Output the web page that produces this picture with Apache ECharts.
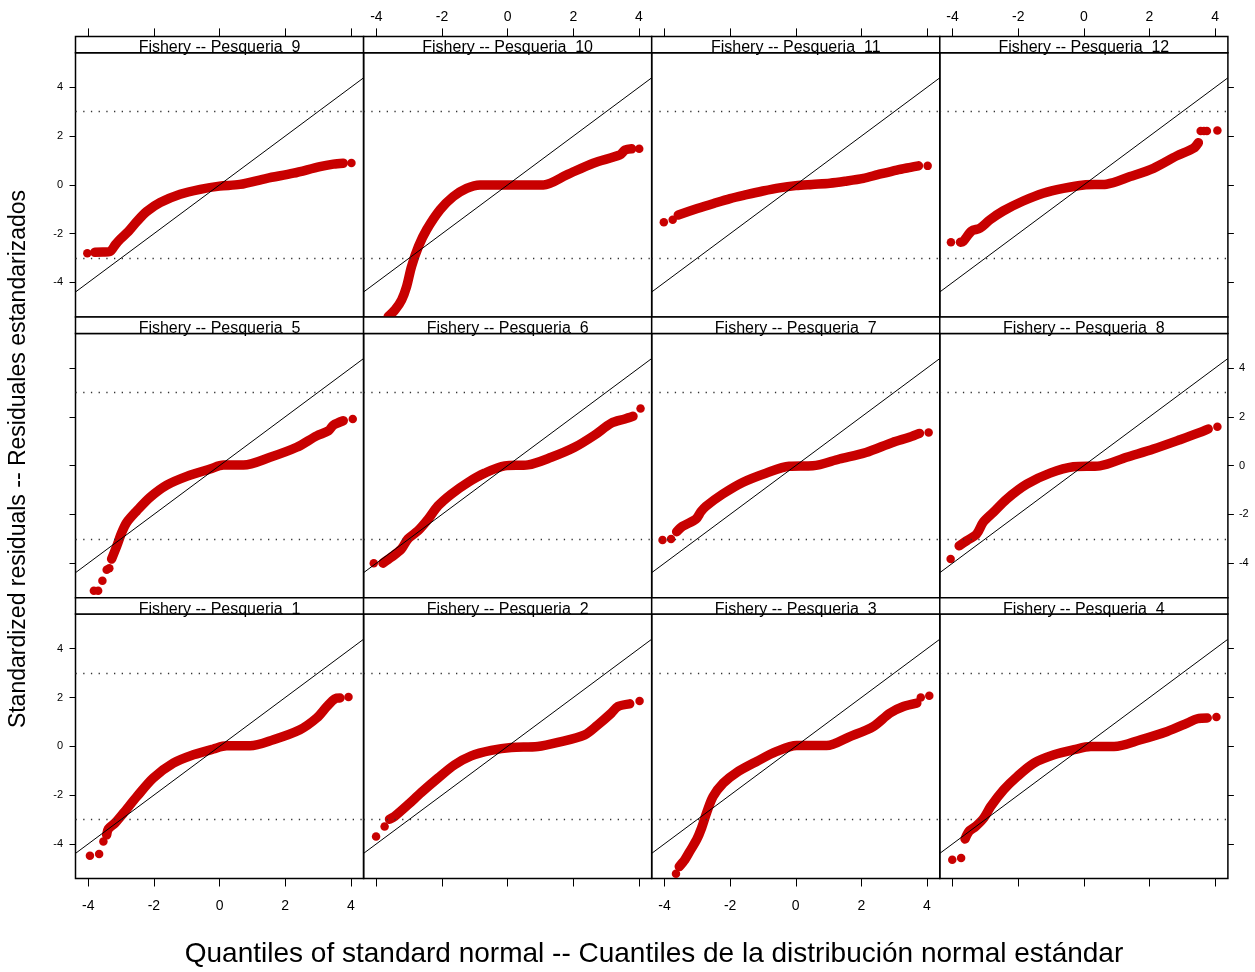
<!DOCTYPE html>
<html>
<head>
<meta charset="utf-8">
<script src="https://cdn.jsdelivr.net/npm/echarts@6/dist/echarts.min.js"></script>
<style>
  html, body { margin: 0; padding: 0; background: #fff; }
  #chart { width: 1255px; height: 972px; }
</style>
</head>
<body>
<div id="chart"></div>
<script>
// panels as laid out: top row 9-12, middle row 5-8, bottom row 1-4
const panelOrder = [9, 10, 11, 12, 5, 6, 7, 8, 1, 2, 3, 4];
const xTicks = [-4, -2, 0, 2, 4];
const yTicks = [-4, -2, 0, 2, 4];
const refLine = [[-4.39, -4.39], [4.39, 4.39]];
const limitLines = [3, -3];

// dense part of each qq cloud and the loose tail points
const band1 = [[-3.44,-3.63],[-3.39,-3.39],[-3.19,-3.15],[-2.93,-2.74],[-2.52,-2.06],[-2.02,-1.30],[-1.41,-0.69],[-0.80,-0.35],[-0.19,-0.11],[0.22,0.02],[0.93,0.02],[1.64,0.27],[2.45,0.68],[2.96,1.16],[3.27,1.63],[3.52,1.95],[3.67,1.98]];
const dots1 = [[-3.95,-4.49],[-3.67,-4.42],[-3.54,-3.90],[3.93,2.02]];
const band2 = [[-3.60,-2.99],[-3.45,-2.88],[-3.04,-2.40],[-2.63,-1.89],[-2.12,-1.30],[-1.62,-0.76],[-1.11,-0.39],[-0.50,-0.17],[0.11,-0.05],[0.92,-0.01],[1.53,0.16],[2.35,0.47],[2.75,0.88],[3.16,1.36],[3.36,1.63],[3.72,1.74]];
const dots2 = [[-4.01,-3.70],[-3.75,-3.29],[4.02,1.86]];
const band3 = [[-3.55,-4.93],[-3.38,-4.65],[-3.23,-4.31],[-3.02,-3.83],[-2.87,-3.35],[-2.72,-2.74],[-2.52,-2.06],[-2.21,-1.51],[-1.80,-1.07],[-1.19,-0.62],[-0.58,-0.21],[0.03,0.03],[0.94,0.03],[1.65,0.40],[2.36,0.81],[2.87,1.36],[3.28,1.63],[3.69,1.77]];
const dots3 = [[-3.65,-5.23],[3.81,2.00],[4.07,2.07]];
const band4 = [[-3.62,-3.80],[-3.50,-3.49],[-3.30,-3.29],[-3.05,-2.94],[-2.84,-2.47],[-2.44,-1.78],[-2.03,-1.24],[-1.52,-0.69],[-0.91,-0.35],[-0.30,-0.14],[0.21,-0.01],[0.92,-0.01],[1.73,0.27],[2.54,0.61],[3.15,0.95],[3.46,1.13],[3.76,1.16]];
const dots4 = [[-4.01,-4.65],[-3.74,-4.58],[4.04,1.20]];
const band5 = [[-3.29,-3.83],[-3.13,-3.29],[-2.98,-2.74],[-2.83,-2.33],[-2.52,-1.85],[-2.12,-1.30],[-1.61,-0.80],[-1.00,-0.44],[-0.29,-0.14],[0.12,0.02],[0.73,0.02],[1.54,0.34],[2.35,0.75],[2.96,1.22],[3.32,1.43],[3.47,1.66],[3.77,1.84]];
const dots5 = [[-3.83,-5.13],[-3.70,-5.13],[-3.57,-4.72],[-3.44,-4.27],[-3.36,-4.21],[4.06,1.91]];
const band6 = [[-3.80,-4.00],[-3.55,-3.76],[-3.24,-3.42],[-3.04,-3.01],[-2.73,-2.67],[-2.42,-2.19],[-2.12,-1.65],[-1.72,-1.17],[-1.21,-0.69],[-0.70,-0.31],[-0.09,-0.01],[0.62,0.03],[1.33,0.34],[2.04,0.75],[2.65,1.25],[3.16,1.74],[3.57,1.91],[3.82,2.02]];
const dots6 = [[-4.08,-4.00],[4.05,2.34]];
const band7 = [[-3.63,-2.71],[-3.45,-2.49],[-3.04,-2.19],[-2.89,-1.89],[-2.74,-1.67],[-2.23,-1.17],[-1.62,-0.69],[-0.91,-0.31],[-0.20,-0.03],[0.52,-0.01],[1.33,0.27],[2.14,0.54],[2.95,0.95],[3.46,1.16],[3.77,1.32]];
const dots7 = [[-4.06,-3.05],[-3.80,-3.01],[4.05,1.36]];
const band8 = [[-3.80,-3.29],[-3.57,-3.08],[-3.27,-2.81],[-3.07,-2.33],[-2.76,-1.92],[-2.35,-1.37],[-1.74,-0.76],[-1.03,-0.31],[-0.32,-0.05],[0.49,-0.01],[1.30,0.34],[2.12,0.68],[2.93,1.06],[3.54,1.36],[3.79,1.50]];
const dots8 = [[-4.06,-3.83],[4.07,1.59]];
const band9 = [[-3.80,-2.76],[-3.55,-2.75],[-3.34,-2.73],[-3.18,-2.46],[-3.03,-2.23],[-2.78,-1.91],[-2.52,-1.50],[-2.22,-1.09],[-1.81,-0.72],[-1.20,-0.38],[-0.59,-0.18],[0.00,-0.05],[0.62,0.02],[1.44,0.27],[2.25,0.48],[3.06,0.75],[3.47,0.85],[3.77,0.89]];
const dots9 = [[-4.03,-2.80],[4.02,0.90]];
const band10 = [[-3.64,-5.40],[-3.43,-5.12],[-3.23,-4.71],[-3.08,-4.17],[-2.93,-3.35],[-2.72,-2.53],[-2.47,-1.84],[-2.06,-1.02],[-1.66,-0.48],[-1.25,-0.14],[-0.84,0.00],[1.09,0.00],[1.80,0.41],[2.61,0.89],[3.42,1.23],[3.58,1.43],[3.78,1.48]];
const dots10 = [[4.01,1.48]];
const band11 = [[-3.58,-1.23],[-3.00,-0.97],[-2.50,-0.76],[-2.00,-0.56],[-1.50,-0.40],[-1.00,-0.25],[-0.50,-0.12],[0.00,-0.03],[0.50,0.02],[1.04,0.07],[1.50,0.15],[2.06,0.27],[2.50,0.42],[3.08,0.61],[3.50,0.72],[3.74,0.78]];
const dots11 = [[-4.02,-1.53],[-3.75,-1.43],[4.02,0.78]];
const band12 = [[-3.76,-2.35],[-3.68,-2.32],[-3.42,-1.89],[-3.17,-1.78],[-2.86,-1.43],[-2.46,-1.07],[-1.85,-0.66],[-1.24,-0.34],[-0.63,-0.14],[0.00,0.00],[0.69,0.03],[1.41,0.34],[2.12,0.68],[2.83,1.19],[3.34,1.50],[3.49,1.73]];
const dots12 = [[-4.05,-2.35],[3.56,2.21],[3.66,2.21],[3.75,2.21],[4.07,2.23]];

const bands = {1: band1, 2: band2, 3: band3, 4: band4, 5: band5, 6: band6, 7: band7, 8: band8, 9: band9, 10: band10, 11: band11, 12: band12};
const dots = {1: dots1, 2: dots2, 3: dots3, 4: dots4, 5: dots5, 6: dots6, 7: dots7, 8: dots8, 9: dots9, 10: dots10, 11: dots11, 12: dots12};

const font = '"Liberation Sans", Arial, Helvetica, sans-serif';
const red = '#C80000';
const panelW = 288.1, panelH = 264.4, stripH = 16.3;
const colLeft = c => 75.5 + panelW * c;
const rowTop = r => 52.7 + (panelH + stripH) * r;

const grids = [], xAxes = [], yAxes = [], series = [], graphics = [];

panelOrder.forEach((id, i) => {
    const r = Math.floor(i / 4), c = i % 4;
    grids.push({
        left: colLeft(c), top: rowTop(r), width: panelW, height: panelH,
        show: true, borderColor: '#000', borderWidth: 1.5, backgroundColor: 'transparent'
    });
    xAxes.push({
        gridIndex: i, type: 'value', min: -4.39, max: 4.39,
        show: r !== 1,
        position: r === 0 ? 'top' : 'bottom',
        offset: r === 0 ? stripH : 0,
        axisLine: {show: false, onZero: false},
        splitLine: {show: false},
        axisTick: {show: true, length: 8, customValues: xTicks, lineStyle: {color: '#000', width: 1}},
        axisLabel: {
            show: (r === 0 && c % 2 === 1) || (r === 2 && c % 2 === 0),
            customValues: xTicks, fontSize: 14, color: '#000', fontFamily: font,
            margin: r === 0 ? 12 : 21
        }
    });
    yAxes.push({
        gridIndex: i, type: 'value', min: -5.42, max: 5.42,
        show: c === 0 || c === 3,
        position: c === 3 ? 'right' : 'left',
        axisLine: {show: false, onZero: false},
        splitLine: {show: false},
        axisTick: {show: true, length: 6, customValues: yTicks, lineStyle: {color: '#000', width: 1}},
        axisLabel: {
            show: (c === 0 && r !== 1) || (c === 3 && r === 1),
            customValues: yTicks, fontSize: 11, color: '#000', fontFamily: font,
            margin: c === 0 ? 12.5 : 11
        }
    });
    // thick band of overlapping points
    series.push({
        type: 'line', xAxisIndex: i, yAxisIndex: i, data: bands[id],
        symbol: 'none', smooth: 0.3, z: 2,
        lineStyle: {color: red, width: 9.5, cap: 'round', join: 'round'}
    });
    series.push({
        type: 'scatter', xAxisIndex: i, yAxisIndex: i, data: dots[id],
        symbolSize: 8.5, itemStyle: {color: red, opacity: 1}, z: 2
    });
    // qq reference line and the +-3 limits
    series.push({
        type: 'line', xAxisIndex: i, yAxisIndex: i, data: refLine,
        symbol: 'none', z: 3,
        lineStyle: {color: '#000', width: 1},
        markLine: {
            silent: true, symbol: 'none', label: {show: false},
            lineStyle: {color: '#333', width: 1.3, type: [1.3, 6.4]},
            data: limitLines.map(v => ({yAxis: v}))
        }
    });
    // strip with the panel name
    graphics.push({
        type: 'rect', z: 10,
        shape: {x: colLeft(c), y: rowTop(r) - stripH, width: panelW, height: stripH},
        style: {fill: '#fff', stroke: '#000', lineWidth: 1.5}
    });
    graphics.push({
        type: 'text', z: 11,
        x: colLeft(c) + panelW / 2, y: rowTop(r) - 5,
        style: {
            text: 'Fishery -- Pesqueria  ' + id, fill: '#000',
            font: '16px ' + font, textAlign: 'center', textVerticalAlign: 'middle',
            align: 'center', verticalAlign: 'middle'
        }
    });
});

graphics.push({
    type: 'text', x: 654, y: 954,
    style: {
        text: 'Quantiles of standard normal -- Cuantiles de la distribución normal estándar',
        fill: '#000', font: '28px ' + font,
        textAlign: 'center', textVerticalAlign: 'middle', align: 'center', verticalAlign: 'middle'
    }
});
graphics.push({
    type: 'text', x: 19, y: 459, rotation: Math.PI / 2,
    style: {
        text: 'Standardized residuals -- Residuales estandarizados',
        fill: '#000', font: '23px ' + font,
        textAlign: 'center', textVerticalAlign: 'middle', align: 'center', verticalAlign: 'middle'
    }
});

const chart = echarts.init(document.getElementById('chart'));
chart.setOption({
    animation: false,
    backgroundColor: '#fff',
    grid: grids,
    xAxis: xAxes,
    yAxis: yAxes,
    series: series,
    graphic: graphics
});
</script>
</body>
</html>
